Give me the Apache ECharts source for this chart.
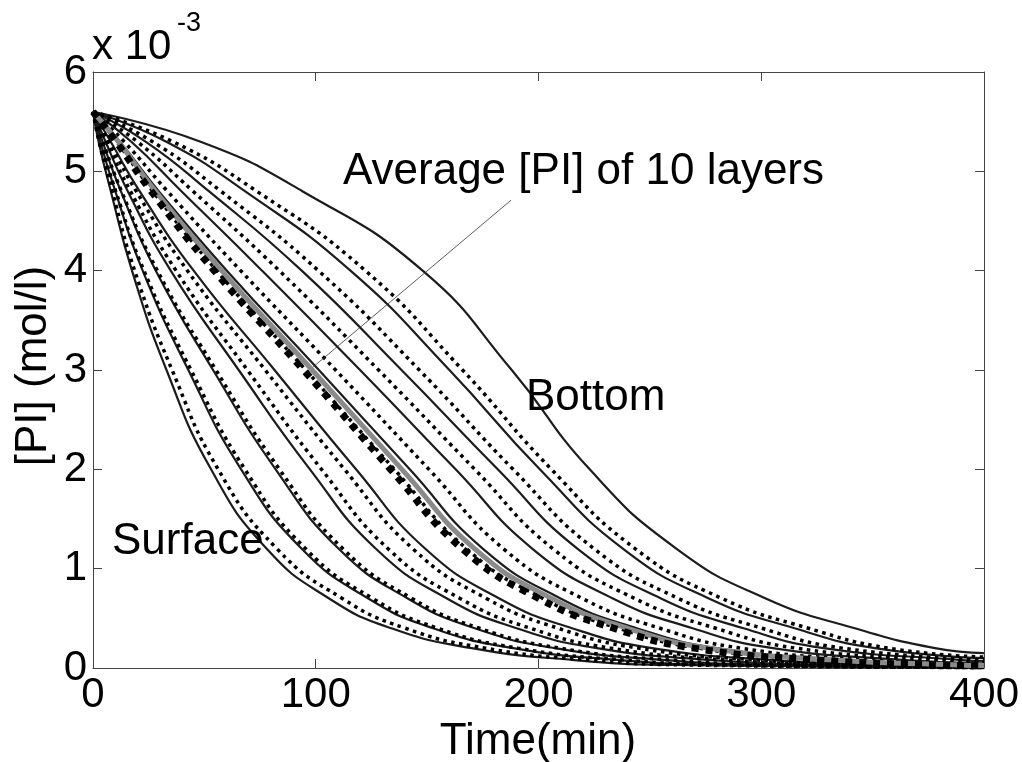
<!DOCTYPE html>
<html><head><meta charset="utf-8">
<script src="https://cdn.jsdelivr.net/npm/echarts@6/dist/echarts.min.js"></script>
<style>html,body{margin:0;padding:0;background:#fff}#c{width:1022px;height:762px}</style>
</head><body><div id="c"></div>
<script>
// [PI] levels (x 10^-3 mol/l) and the times (min) at which each curve reaches them
const levels = [5.6, 5.3, 4.8, 4.0, 3.0, 2.0, 1.2, 0.7, 0.4, 0.2, 0.08, 0.03];
const xTicks = [0, 100, 200, 300, 400];
const yTicks = [0, 1, 2, 3, 4, 5, 6];

// solid curves, surface (1) to bottom (10)
const solid1  = [0, 2.5, 8, 17.5, 33, 53, 78, 106, 134, 170, 216, 261];
const solid2  = [0, 3.3, 10, 22.3, 42.8, 66.5, 93.7, 123.6, 152.7, 188.7, 236.6, 283.5];
const solid3  = [0, 4.3, 12.5, 28.2, 53.9, 82, 110.3, 141.3, 171.4, 207.4, 257.2, 306];
const solid4  = [0, 5.6, 15.6, 34.9, 65.4, 97.4, 127, 158.9, 190.2, 226.2, 277.8, 328.5];
const solid5  = [0, 7.9, 20.9, 45.2, 81.5, 118.1, 149.2, 182.4, 215.1, 251.1, 305.3, 358.5];
const solid6  = [0, 12, 29.5, 60.1, 101.4, 142.2, 175.1, 209.9, 244.2, 280.2, 337.4, 393.5];
const solid7  = [0, 17.1, 39.7, 75.9, 119.9, 162.8, 197.3, 233.4, 269.2, 305.2, 364.9];
const solid8  = [0, 23.6, 52, 93.7, 138.5, 181.7, 217.6, 255, 292.1, 328.1, 390];
const solid9  = [0, 32.7, 68.2, 115.6, 160, 200.6, 238, 276.5, 315, 351];
const solid10 = [0, 48, 94, 148, 188, 223, 262, 302, 342, 378];
const solidEnd = [0.005, 0.005, 0.006, 0.008, 0.014, 0.027, 0.045, 0.069, 0.10, 0.15];

// dotted curves
const dotted1  = [0, 2.7, 8.6, 18.7, 35.5, 56.2, 82.6, 111.9, 140.2, 176.2, 222.9, 268.5];
const dotted2  = [0, 3.4, 10.2, 22.9, 44, 68.2, 95.5, 125.6, 154.8, 190.8, 238.9, 286];
const dotted3  = [0, 4.4, 12.8, 28.9, 55.2, 83.7, 112.2, 143.2, 173.5, 209.5, 259.5, 308.5];
const dotted4  = [0, 6.1, 16.8, 37.3, 69.3, 102.6, 132.5, 164.8, 196.4, 232.4, 284.7, 336];
const dotted5  = [0, 7.2, 19.4, 42.4, 77.3, 112.9, 143.6, 176.6, 208.9, 244.9, 298.4, 351];
const dotted6  = [0, 10.6, 26.8, 55.5, 95.5, 135.3, 167.7, 202, 235.9, 271.9, 328.2, 383.5];
const dotted7  = [0, 13.9, 33.4, 66.3, 108.9, 150.8, 184.3, 219.7, 254.6, 290.6, 348.8];
const dotted8  = [0, 19.8, 44.9, 83.6, 128.2, 171.4, 206.5, 243.2, 279.6, 315.6, 376.3];
const dotted9  = [0, 26.6, 57.4, 101.2, 146.5, 188.6, 225, 262.8, 300.4, 336.4];
const dotted10 = [0, 35.7, 73.5, 122.3, 165.9, 205.8, 243.5, 282.4, 321.2, 357.2];
const dottedEnd = [0.005, 0.005, 0.006, 0.009, 0.012, 0.022, 0.033, 0.055, 0.079, 0.11];

// average [PI] of 10 layers
const avgDashed = [0, 10.3, 26.1, 54.4, 94.5, 133.6, 165.8, 200.1, 233.8, 269.8, 325.9, 381];
const avgGray   = [0, 11.3, 28.1, 57.8, 98.4, 138.7, 171.4, 206, 240.1, 276.1, 332.8, 388.5];
const avgEnd = [0.021, 0.024];

// annotation leader line [time, value]
const leaderLine = [[187.7, 4.71], [98.8, 3.03]];

const endTime = 400;
function pts(times, endVal) {
  const d = times.map((t, i) => [t, levels[i]]);
  d.push([endTime, endVal]);
  return d;
}

const solids = [solid1, solid2, solid3, solid4, solid5, solid6, solid7, solid8, solid9, solid10];
const dotteds = [dotted1, dotted2, dotted3, dotted4, dotted5, dotted6, dotted7, dotted8, dotted9, dotted10];

const FONT = '"Liberation Sans", Arial, Helvetica, sans-serif';
const SM = 0.5;
const series = [];
solids.forEach((s, i) => series.push({
  type: 'line', data: pts(s, solidEnd[i]), showSymbol: false, smooth: SM,
  lineStyle: { color: '#1c1c1c', width: 2.2 }, z: 2, silent: true
}));
dotteds.forEach((s, i) => series.push({
  type: 'line', data: pts(s, dottedEnd[i]), showSymbol: false, smooth: SM,
  lineStyle: { color: '#000', width: 3.5, type: [3.5, 4.5], cap: 'butt' }, z: 3, silent: true
}));
series.push({
  type: 'line', data: pts(avgGray, avgEnd[1]), showSymbol: false, smooth: SM,
  lineStyle: { color: '#8a8a8a', width: 5 }, z: 4, silent: true
});
series.push({
  type: 'line', data: pts(avgDashed, avgEnd[0]), showSymbol: false, smooth: SM,
  lineStyle: { color: '#000', width: 7, type: [7, 7], cap: 'butt' }, z: 5, silent: true
});
series.push({
  type: 'line', data: leaderLine, showSymbol: false,
  lineStyle: { color: '#333', width: 0.8 }, z: 6, silent: true
});

const axisCommon = {
  axisLine: { show: true, onZero: false, lineStyle: { color: '#444', width: 1 } },
  axisTick: { show: true, inside: true, length: 9, lineStyle: { color: '#444' } },
  splitLine: { show: false }
};

const chart = echarts.init(document.getElementById('c'), null, { renderer: 'canvas' });
chart.setOption({
  animation: false,
  backgroundColor: '#fff',
  grid: { left: 93, right: 38, top: 72, bottom: 94 },
  xAxis: [
    Object.assign({ type: 'value', min: xTicks[0], max: xTicks[xTicks.length - 1], interval: 100,
      axisLabel: { color: '#000', fontFamily: FONT, fontSize: 42, margin: 6 } }, axisCommon),
    Object.assign({ type: 'value', position: 'top', min: 0, max: 400, interval: 100,
      axisLabel: { show: false } }, axisCommon)
  ],
  yAxis: [
    Object.assign({ type: 'value', min: yTicks[0], max: yTicks[yTicks.length - 1], interval: 1,
      axisLabel: { color: '#000', fontFamily: FONT, fontSize: 42, margin: 6 } }, axisCommon),
    Object.assign({ type: 'value', position: 'right', min: 0, max: 6, interval: 1,
      axisLabel: { show: false } }, axisCommon)
  ],
  series: series,
  graphic: [
    { type: 'text', left: 92, top: 26, z: 10, style: { text: 'x 10', font: '42px ' + FONT, fill: '#000' } },
    { type: 'text', left: 177, top: 10, z: 10, style: { text: '-3', font: '27px ' + FONT, fill: '#000' } },
    { type: 'text', x: 538, y: 742, z: 10, style: { text: 'Time(min)', font: '44px ' + FONT, fill: '#000', align: 'center', verticalAlign: 'middle' } },
    { type: 'text', x: 34, y: 366, rotation: Math.PI / 2, z: 10, style: { text: '[PI] (mol/l)', font: '44px ' + FONT, fill: '#000', align: 'center', verticalAlign: 'middle' } },
    { type: 'text', x: 343, y: 172, z: 10, style: { text: 'Average [PI] of 10 layers', font: '44px ' + FONT, fill: '#000', align: 'left', verticalAlign: 'middle' } },
    { type: 'text', x: 526, y: 398, z: 10, style: { text: 'Bottom', font: '44px ' + FONT, fill: '#000', align: 'left', verticalAlign: 'middle' } },
    { type: 'text', x: 112, y: 542, z: 10, style: { text: 'Surface', font: '44px ' + FONT, fill: '#000', align: 'left', verticalAlign: 'middle' } }
  ]
});
</script>
</body></html>
